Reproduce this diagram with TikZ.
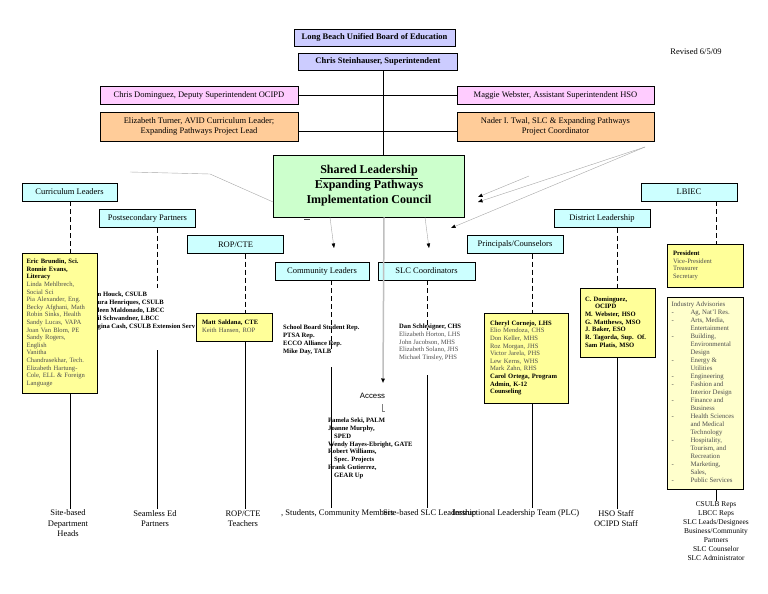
\documentclass[tikz,border=0pt]{standalone}
\usepackage{fontspec}
\setmainfont{Liberation Serif}
\newfontfamily\accessfont{Liberation Sans}
\usetikzlibrary{arrows.meta}

\definecolor{boardblue}{HTML}{CCCCFF}
\definecolor{deppink}{HTML}{FFCCFF}
\definecolor{leadorange}{HTML}{FFCC99}
\definecolor{councilgreen}{HTML}{CCFFCC}
\definecolor{groupcyan}{HTML}{CCFFFF}
\definecolor{listyellow}{HTML}{FFFF99}
\definecolor{advyellow}{HTML}{FFFFCC}
\definecolor{namegray}{HTML}{4D4D4D}

\newcommand{\headname}[1]{\textbf{#1}}
\newcommand{\membername}[1]{\textcolor{namegray}{#1}}

\tikzset{
  titlebox/.style={draw, line width=0.8pt, inner sep=1pt, align=center, font=\fontsize{8.5}{10}\selectfont},
  groupbox/.style={titlebox, fill=groupcyan, minimum width=96pt, minimum height=17.5pt},
  listbox/.style={draw, line width=0.8pt, fill=listyellow, inner xsep=4pt, inner ysep=2pt, align=left, font=\fontsize{6.6}{7.6}\selectfont},
  names/.style={inner sep=0pt, align=left, font=\fontsize{6.6}{7.8}\selectfont\bfseries},
  footer/.style={inner sep=1pt, align=center, font=\fontsize{8.5}{10.5}\selectfont},
  dashline/.style={dash pattern=on 5pt off 3pt, line width=0.8pt},
  stem/.style={line width=0.8pt},
  guide/.style={gray!70, line width=0.4pt},
  pointer/.style={-{Triangle[length=4.5pt,width=3.5pt,color=black]}}
}

\begin{document}
\begin{tikzpicture}[x=1pt,y=-1pt]
\useasboundingbox (0,0) rectangle (768,594);

\node[titlebox,fill=boardblue,minimum width=161pt,minimum height=17pt,font=\fontsize{8.5}{10}\selectfont\bfseries] (board) at (374.5,37.5) {Long Beach Unified Board of Education};
\node[titlebox,fill=boardblue,minimum width=159pt,minimum height=17pt,font=\fontsize{8.5}{10}\selectfont\bfseries] (super) at (378,61.5) {Chris Steinhauser, Superintendent};
\node[titlebox,fill=deppink,minimum width=198pt,minimum height=18pt] (deputy) at (199,95) {Chris Dominguez, Deputy Superintendent OCIPD};
\node[titlebox,fill=deppink,minimum width=197pt,minimum height=18pt] (assist) at (555.5,95) {Maggie Webster, Assistant Superintendent HSO};
\node[titlebox,fill=leadorange,minimum width=198pt,minimum height=29pt] (turner) at (199,126.5) {Elizabeth Turner, AVID Curriculum Leader;\\Expanding Pathways Project Lead};
\node[titlebox,fill=leadorange,minimum width=197pt,minimum height=29pt] (twal) at (555.5,126.5) {Nader I. Twal, SLC \& Expanding Pathways\\Project Coordinator};
\node[footer] (revised) at (696,52) {Revised 6/5/09};
\node[titlebox,fill=councilgreen,minimum width=191pt,minimum height=62pt,font=\fontsize{12}{15}\selectfont\bfseries] (council) at (369,186) {\underline{Shared Leadership}\\Expanding Pathways\\Implementation Council};

\draw[stem] ([xshift=5pt]super.south) -- ([xshift=5pt]super.south |- council.north);
\draw[stem] (deputy.east) -- (assist.west);
\draw[stem] ([yshift=-4.5pt]turner.east) -- ([yshift=-4.5pt]twal.west);

\node[groupbox,minimum width=95pt,minimum height=18pt] (curr) at (69.5,192) {Curriculum Leaders};
\node[groupbox] (post) at (147.5,218.5) {Postsecondary Partners};
\node[groupbox] (rop) at (235.5,244.5) {ROP/CTE};
\node[groupbox,minimum width=94pt,minimum height=18pt] (comm) at (322,271) {Community Leaders};
\node[groupbox,minimum width=97pt,minimum height=18pt] (slc) at (426.5,271) {SLC Coordinators};
\node[groupbox] (prin) at (515,244.5) {Principals/Counselors};
\node[groupbox] (dist) at (602,218.5) {District Leadership};
\node[groupbox,minimum height=18pt] (lbiec) at (689,192) {LBIEC};

\node[names,anchor=west] (postnames) at (97.5,311) {n Houck, CSULB\\ura Henriques, CSULB\\leen Maldonado, LBCC\\il Schwandner, LBCC\\gina Cash, CSULB Extension Serv};
\node[names,anchor=west] (commnames) at (283,340) {School Board Student Rep.\\PTSA Rep.\\ECCO Alliance Rep.\\Mike Day, TALB};
\node[names,anchor=west,font=\fontsize{6.6}{7.8}\selectfont] (slcnames) at (399,342.5) {\headname{Dan Schlesigner, CHS}\\\membername{Elizabeth Horton, LHS}\\\membername{John Jacobson, MHS}\\\membername{Elizabeth Solano, JHS}\\\membername{Michael Tinsley, PHS}};
\node[inner sep=0pt,font=\accessfont\fontsize{7.8}{9}\selectfont] (access) at (372.5,396) {Access};
\node[names,anchor=west] (accessnames) at (328,448.5) {Pamela Seki, PALM\\Joanne Murphy,\\\hspace*{6pt}SPED\\Wendy Hayes-Ebright, GATE\\Robert Williams,\\\hspace*{6pt}Spec. Projects\\Frank Gutierrez,\\\hspace*{6pt}GEAR Up};

\node[listbox,minimum width=75pt,minimum height=140pt,text width=66pt] (currlist) at (59.5,323) {\headname{Eric Brundin, Sci.}\\\headname{Ronnie Evans,}\\\headname{Literacy}\\\membername{Linda Mehlbrech,}\\\membername{Social Sci}\\\membername{Pia Alexander, Eng.}\\\membername{Becky Afghani, Math}\\\membername{Robin Sinks, Health}\\\membername{Sandy Lucas, VAPA}\\\membername{Joan Van Blom, PE}\\\membername{Sandy Rogers,}\\\membername{English}\\\membername{Vanitha}\\\membername{Chandrasekhar, Tech.}\\\membername{Elizabeth Hartung-}\\\membername{Cole, ELL \& Foreign}\\\membername{Language}};
\node[listbox,minimum width=76pt,minimum height=28pt,text width=64pt] (matt) at (234,327) {\headname{Matt Saldana, CTE}\\\membername{Keith Hansen, ROP}};
\node[listbox,minimum width=84pt,minimum height=90pt,text width=72pt] (cheryl) at (526,358) {\headname{Cheryl Cornejo, LHS}\\\membername{Elio Mendoza, CHS}\\\membername{Don Keller, MHS}\\\membername{Roz Morgan, JHS}\\\membername{Victor Jarela, PHS}\\\membername{Lew Kerns, WHS}\\\membername{Mark Zahn, RHS}\\\headname{Carol Ortega, Program}\\\headname{Admin, K-12}\\\headname{Counseling}};
\node[listbox,minimum width=75pt,minimum height=69pt,text width=65pt,font=\fontsize{6.6}{7.7}\selectfont\bfseries] (distlist) at (617.5,322.5) {C. Dominguez,\\\hspace*{10pt}OCIPD\\M. Webster, HSO\\G. Matthews, MSO\\J. Baker, ESO\\R. Tagorda, Sup. Of.\\Sam Platis, MSO};
\node[listbox,minimum width=76pt,minimum height=43pt,text width=64pt] (pres) at (705,265.5) {\headname{President}\\\membername{Vice-President}\\\membername{Treasurer}\\\membername{Secretary}};
\node[listbox,fill=advyellow,minimum width=76pt,minimum height=192pt,font=\fontsize{6.8}{8}\selectfont\color{namegray}] (industry) at (705,393) {\begin{tabular}{@{}p{19pt}@{}p{48pt}@{}}
\multicolumn{2}{@{}l}{Industry Advisories}\\
- & Ag, Nat'l Res.\\
- & Arts, Media,\newline Entertainment\\
- & Building,\newline Environmental\newline Design\\
- & Energy \&\newline Utilities\\
- & Engineering\\
- & Fashion and\newline Interior Design\\
- & Finance and\newline Business\\
- & Health Sciences\newline and Medical\newline Technology\\
- & Hospitality,\newline Tourism, and\newline Recreation\\
- & Marketing,\newline Sales,\\
- & Public Services
\end{tabular}};

\node[footer] (sitebased) at (68,523.5) {Site-based\\Department\\Heads};
\node[footer] (seamless) at (155,518.5) {Seamless Ed\\Partners};
\node[footer] (ropteach) at (243,518.5) {ROP/CTE\\Teachers};
\node[footer,anchor=west] (commlabel) at (280,513) {, Students, Community Members};
\node[footer,anchor=west] (slclabel) at (382,513) {Site-based SLC Leadership};
\node[footer,anchor=west] (plclabel) at (451,513) {Instructional Leadership Team (PLC)};
\node[footer] (hsolabel) at (616,518.5) {HSO Staff\\OCIPD Staff};
\node[footer,font=\fontsize{7.4}{9}\selectfont] (lbieclabel) at (716,531.5) {CSULB Reps\\LBCC Reps\\SLC Leads/Designees\\Business/Community\\Partners\\SLC Counselor\\SLC Administrator};

\coordinate (c1) at (70,0);
\coordinate (c2) at (157,0);
\coordinate (c3) at (245,0);
\coordinate (c4) at (331,0);
\coordinate (c5) at (427,0);
\coordinate (c6) at (532,0);
\coordinate (c7) at (617,0);
\coordinate (c8) at (716,0);
\coordinate (p2a) at (157,288);
\coordinate (p2b) at (157,350);
\coordinate (p4a) at (331,352);
\coordinate (p4b) at (331,367);
\coordinate (p5a) at (427,330);
\coordinate (p5b) at (427,375);

\draw[dashline] (curr.south -| c1) -- (currlist.north -| c1);
\draw[stem] (currlist.south -| c1) -- (sitebased.north -| c1);
\draw[dashline] (post.south -| c2) -- (p2a);
\draw[stem] (p2b) -- (seamless.north -| c2);
\draw[dashline] (rop.south -| c3) -- (matt.north -| c3);
\draw[stem] (matt.south -| c3) -- (ropteach.north -| c3);
\draw[dashline] (comm.south -| c4) -- (p4a);
\draw[stem] (p4b) -- (commlabel.north -| c4);
\draw[dashline] (slc.south -| c5) -- (p5a);
\draw[stem] (p5b) -- (slclabel.north -| c5);
\draw[dashline] (prin.south -| c6) -- (cheryl.north -| c6);
\draw[stem] (cheryl.south -| c6) -- (plclabel.north -| c6);
\draw[dashline] (dist.south -| c7) -- (distlist.north -| c7);
\draw[stem] (distlist.south -| c7) -- (hsolabel.north -| c7);
\draw[dashline] (lbiec.south -| c8) -- (pres.north -| c8);
\draw[stem] (industry.south -| c8) -- (lbieclabel.north -| c8);

\coordinate (g1) at (130,172);
\coordinate (g2) at (210,174);
\coordinate (g3) at (645,147);
\coordinate (g4) at (529,176);
\coordinate (a1) at (334,248);
\coordinate (a2) at (429,248);
\coordinate (a3) at (383,383);
\coordinate (a4) at (478,197);
\coordinate (a5) at (451,228);
\coordinate (a6) at (478,202);
\draw[guide] (g1) -- (g2) -- ([yshift=-16pt]council.west);
\draw[guide,pointer] (g4) -- (a4);
\draw[guide,pointer] (g3) -- (a6);
\draw[guide,pointer] (g3) -- (a5);
\draw[guide,pointer] ([xshift=-39pt]council.south) -- (a1);
\draw[guide,pointer] ([xshift=56pt]council.south) -- (a2);
\draw[black!25,line width=1.5pt,pointer] ([xshift=15pt]council.south) -- (a3);
\draw[black!50,line width=0.6pt] (382,404) -- (382,411) -- (385,411);
\draw[black!70,line width=1.5pt] (304,219.5) -- (310,219.5);
\end{tikzpicture}
\end{document}
